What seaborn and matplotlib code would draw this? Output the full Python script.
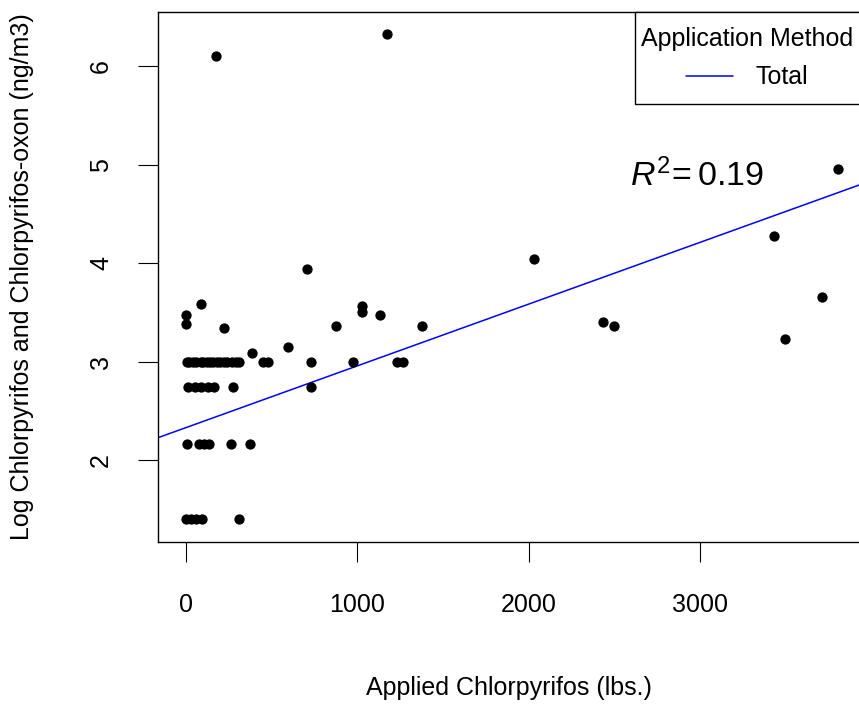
import numpy as np
import pandas as pd
import matplotlib
matplotlib.use("Agg")
import matplotlib.pyplot as plt
from matplotlib.lines import Line2D
from matplotlib.patches import Rectangle
import seaborn as sns

# ---- data ----
applied_lbs = [
    # row at ~3.0
    5, 20, 40, 60, 85, 100, 120, 140, 160, 180, 200, 220, 240, 270, 290, 310,
    450, 478, 728, 973, 1232, 1265,
    # row at ~2.74
    10, 55, 90, 130, 165, 276, 728,
    # row at ~2.165
    5, 75, 105, 135, 262, 372,
    # row at ~1.40
    0, 30, 60, 95, 309,
    # scattered points
    0, 0, 88, 222, 175, 383, 593, 704, 876, 1025, 1025, 1133, 1171, 1380,
    2028, 2436, 2499, 3433, 3493, 3713, 3804,
]
log_conc = [
    3.0, 3.0, 3.0, 3.0, 3.0, 3.0, 3.0, 3.0, 3.0, 3.0, 3.0, 3.0, 3.0, 3.0, 3.0, 3.0,
    3.0, 3.0, 3.0, 3.0, 3.0, 3.0,
    2.74, 2.74, 2.74, 2.74, 2.74, 2.74, 2.74,
    2.165, 2.165, 2.165, 2.165, 2.165, 2.165,
    1.40, 1.40, 1.40, 1.40, 1.40,
    3.47, 3.38, 3.59, 3.34, 6.10, 3.09, 3.145, 3.94, 3.365, 3.57, 3.50, 3.47, 6.33, 3.365,
    4.047, 3.405, 3.36, 4.28, 3.23, 3.66, 4.96,
]
fit_intercept = 2.331
fit_slope = 0.000627
r2_value = 0.19
x_ticks = [0, 1000, 2000, 3000]
y_ticks = [2, 3, 4, 5, 6]
legend_title = "Application Method"
legend_label = "Total"
x_label = "Applied Chlorpyrifos (lbs.)"
y_label = "Log Chlorpyrifos and Chlorpyrifos-oxon (ng/m3)"

df = pd.DataFrame({"applied": applied_lbs, "logc": log_conc})

sns.set_style("ticks")
plt.rcParams["font.family"] = ["Liberation Sans", "DejaVu Sans"]
plt.rcParams["mathtext.fontset"] = "custom"
plt.rcParams["mathtext.rm"] = "Liberation Sans"
plt.rcParams["mathtext.it"] = "Liberation Sans:italic"
plt.rcParams["text.color"] = "black"
plt.rcParams["axes.labelcolor"] = "black"
plt.rcParams["legend.labelcolor"] = "black"

W, H = 859, 704
fig = plt.figure(figsize=(W / 100, H / 100), dpi=100)
ax = fig.add_axes([158 / W, (H - 542) / H, (864 - 158) / W, (542 - 12) / H])

sns.scatterplot(data=df, x="applied", y="logc", ax=ax, color="black",
                s=55, linewidth=0, legend=False, zorder=3)
ax.axline((0, fit_intercept), slope=fit_slope, color="#0000FF", lw=1.1, zorder=2)

ax.set_xlim(-163, 3956)
ax.set_ylim(1.17, 6.55)
ax.set_xticks(x_ticks)
ax.set_yticks(y_ticks)
ax.set_yticklabels([str(v) for v in y_ticks], rotation=90, va="center")
ax.tick_params(axis="both", direction="out", length=14.4, width=0.8,
               labelsize=18, colors="black")
ax.tick_params(axis="x", pad=22)
ax.tick_params(axis="y", pad=18)
for sp in ax.spines.values():
    sp.set_linewidth(1.0)
    sp.set_color("black")

ax.set_xlabel(x_label, fontsize=18, va="center", color="black")
ax.set_ylabel(y_label, fontsize=18, va="center", color="black")
ax.xaxis.set_label_coords((509 - 158) / 706, -(688 - 542) / 530)
ax.yaxis.set_label_coords(-(158 - 22) / 706, 0.5)

ax.text(2983, 4.89, r"$R^2\!=0.19$", fontsize=24.5, ha="center", va="center",
        color="black")

# legend frame (R-style box, running off the right edge)
frame = Rectangle((635 / W, 1 - 104 / H), (900 - 635) / W, (104 - 12) / H,
                  transform=fig.transFigure, facecolor="white", edgecolor="black",
                  linewidth=1.0, clip_on=False, zorder=4)
ax.add_patch(frame)

handle = Line2D([], [], color="#0000FF", lw=1.1)
leg = ax.legend([handle], [legend_label], title=legend_title,
                loc="upper left", bbox_to_anchor=(641 / W, 1 - 27 / H),
                bbox_transform=fig.transFigure,
                borderaxespad=0, fontsize=18, title_fontsize=18,
                frameon=False, handlelength=1.85, handletextpad=0.9,
                borderpad=0, labelspacing=0.58, alignment="center")
leg.get_title().set_color("black")
leg.set_zorder(5)

fig.savefig("out.png", dpi=100)
